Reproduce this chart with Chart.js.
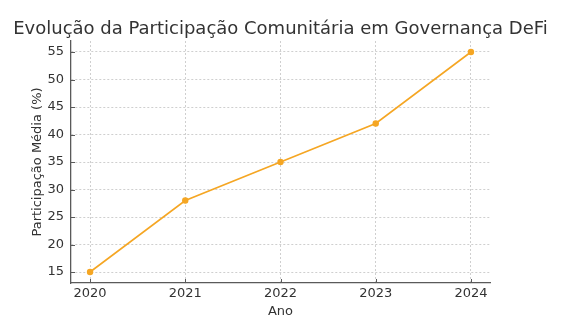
<!DOCTYPE html>
<html>
<head>
<meta charset="utf-8">
<script src="https://cdn.jsdelivr.net/npm/chart.js@4"></script>
<style>
  html, body { margin: 0; padding: 0; background: #fff; }
  canvas { display: block; }
</style>
</head>
<body>
<canvas id="chart" width="582" height="336"></canvas>
<script>
/* ---- Data ---- */
const years = [2020, 2021, 2022, 2023, 2024];
const participation = [15, 28, 35, 42, 55];
const yTicks = [15, 20, 25, 30, 35, 40, 45, 50, 55];
const chartTitle = "Evolução da Participação Comunitária em Governança DeFi";

const lineColor = "#f5a623";
const textColor = "#333333";
const gridColor = "#cfcfcf";
const axisColor = "#5a5a5a";
const font = "'DejaVu Sans', sans-serif";

// title centred over the plot area (matplotlib style), plus short inward ticks
const decorations = {
  id: "decorations",
  afterDraw(chart) {
    const { ctx, chartArea: a, scales } = chart;
    ctx.save();
    ctx.fillStyle = textColor;
    ctx.font = "18px " + font;
    ctx.textAlign = "center";
    ctx.textBaseline = "middle";
    ctx.fillText(chartTitle, (a.left + a.right) / 2, 29);

    ctx.strokeStyle = axisColor;
    ctx.lineWidth = 1;
    ctx.beginPath();
    years.forEach(v => {
      const px = Math.round(scales.x.getPixelForValue(v)) + 0.5;
      ctx.moveTo(px, a.bottom); ctx.lineTo(px, a.bottom - 4);
    });
    yTicks.forEach(v => {
      const py = Math.round(scales.y.getPixelForValue(v)) + 0.5;
      ctx.moveTo(a.left, py); ctx.lineTo(a.left + 4, py);
    });
    ctx.stroke();
    ctx.restore();
  }
};

new Chart(document.getElementById("chart"), {
  type: "line",
  data: {
    datasets: [{
      data: years.map((y, i) => ({ x: y, y: participation[i] })),
      borderColor: lineColor,
      backgroundColor: lineColor,
      borderWidth: 1.6,
      pointRadius: 3.2,
      pointBorderWidth: 0,
      tension: 0
    }]
  },
  options: {
    responsive: false,
    animation: false,
    layout: { padding: { top: 41 } },
    plugins: {
      legend: { display: false },
      tooltip: { enabled: false },
      title: { display: false }
    },
    scales: {
      x: {
        type: "linear",
        min: 2019.8,
        max: 2024.2,
        afterBuildTicks: s => { s.ticks = years.map(v => ({ value: v })); },
        afterFit: s => { s.height = 53; },
        ticks: {
          color: textColor,
          font: { family: font, size: 13 },
          padding: 3,
          callback: v => String(v)
        },
        grid: { color: gridColor, tickLength: 0 },
        border: { color: axisColor, width: 1.3, dash: [2, 2] },
        title: {
          display: true, text: "Ano", color: textColor,
          font: { family: font, size: 13 }, padding: { top: 0, bottom: 16.5 }
        }
      },
      y: {
        min: 13,
        max: 57,
        afterBuildTicks: s => { s.ticks = yTicks.map(v => ({ value: v })); },
        afterFit: s => { s.width = 71; },
        ticks: {
          color: textColor,
          font: { family: font, size: 13 },
          padding: 7
        },
        grid: { color: gridColor, tickLength: 0 },
        border: { color: axisColor, width: 1.3, dash: [2, 2] },
        title: {
          display: true, text: "Participação Média (%)", color: textColor,
          font: { family: font, size: 13 }, padding: { top: 29.5, bottom: 0 }
        }
      },
      // empty right-hand gutter so the plot ends where the original does
      y2: {
        type: "linear",
        position: "right",
        display: true,
        afterFit: s => { s.width = 92; },
        ticks: { display: false },
        grid: { display: false, drawOnChartArea: false },
        border: { display: false }
      }
    }
  },
  plugins: [decorations]
});
</script>
</body>
</html>
